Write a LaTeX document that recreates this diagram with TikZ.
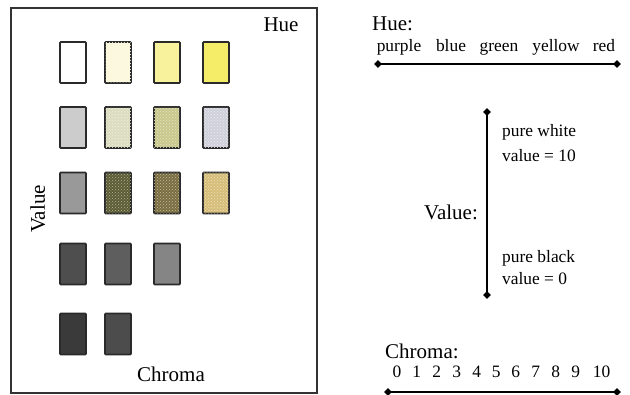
\documentclass[tikz,border=0pt]{standalone}
\usepackage{fontspec}
\setmainfont{Liberation Serif}
\usetikzlibrary{shapes.geometric,patterns}

\definecolor{framegray}{HTML}{333333}
\definecolor{edgegray}{HTML}{2A2A2A}
% swatch colours, named by row and column
\definecolor{c12}{HTML}{FBF8DC}
\definecolor{c13}{HTML}{F7F29B}
\definecolor{c14}{HTML}{F5ED68}
\definecolor{c21}{HTML}{CCCCCC}
\definecolor{c22}{HTML}{DCDCC0}
\definecolor{c23}{HTML}{C8C88C}
\definecolor{c24}{HTML}{D0D0DC}
\definecolor{c31}{HTML}{999999}
\definecolor{c32}{HTML}{5C5C34}
\definecolor{c33}{HTML}{7A6E40}
\definecolor{c34}{HTML}{D6BE78}
\definecolor{c41}{HTML}{4E4E4E}
\definecolor{c42}{HTML}{5E5E5E}
\definecolor{c43}{HTML}{858585}
\definecolor{c51}{HTML}{3A3A3A}
\definecolor{c52}{HTML}{4C4C4C}

\tikzset{
  swatch/.style={draw=edgegray, line width=1.6pt, minimum width=26pt, minimum height=41pt,
                 inner sep=0pt, rounded corners=0.8pt},
  dotted swatch/.style={swatch, fill=#1, postaction={pattern=crosshatch dots, pattern color=white!55!#1}},
  biglabel/.style={font=\fontsize{21}{25}\selectfont, inner sep=0pt},
  smalllabel/.style={font=\fontsize{17.4}{21}\selectfont, inner sep=0pt},
  axis/.style={line width=1.6pt, black},
  tipmark/.style={diamond, fill=black, inner sep=0pt, minimum width=8pt, minimum height=8pt},
}

\begin{document}
\begin{tikzpicture}[x=1pt, y=-1pt]
\useasboundingbox (0,0) rectangle (630,395);

% outer frame of the colour sheet
\draw[framegray, line width=1.4pt] (11,8) rectangle (317,393);

% swatches, row by row (value decreasing downwards)
\node[swatch, fill=white]  (s11) at (73,62.5)  {};
\node[dotted swatch=c12]   (s12) at (118,62.5) {};
\node[swatch, fill=c13]    (s13) at (167,62.5) {};
\node[swatch, fill=c14]    (s14) at (216,62.5) {};

\node[swatch, fill=c21]    (s21) at (73,127.5)  {};
\node[dotted swatch=c22]   (s22) at (118,127.5) {};
\node[dotted swatch=c23]   (s23) at (167,127.5) {};
\node[dotted swatch=c24]   (s24) at (216,127.5) {};

\node[swatch, fill=c31]    (s31) at (73,193)  {};
\node[dotted swatch=c32]   (s32) at (118,193) {};
\node[dotted swatch=c33]   (s33) at (167,193) {};
\node[dotted swatch=c34]   (s34) at (216,193) {};

\node[swatch, fill=c41]    (s41) at (73,264)  {};
\node[swatch, fill=c42]    (s42) at (118,264) {};
\node[swatch, fill=c43]    (s43) at (167,264) {};

\node[swatch, fill=c51]    (s51) at (73,334)  {};
\node[swatch, fill=c52]    (s52) at (118,334) {};

% sheet labels
\node[biglabel, anchor=base]             (hueS)    at (281,32)  {Hue};
\node[biglabel, anchor=base]             (chromaS) at (171,382) {Chroma};
\node[biglabel, anchor=base, rotate=90]  (valueS)  at (45,209)  {Value};

% hue axis
\node[biglabel, anchor=base west] (hueT) at (372,31) {Hue:};
\node[tipmark] (hueL) at (378,64) {};
\node[tipmark] (hueR) at (617,64) {};
\draw[axis] (hueL.center) -- (hueR.center);
\foreach \n/\x in {purple/399, blue/451, green/499, yellow/556, red/604}
  \node[smalllabel, anchor=base] (h-\n) at (\x,52) {\n};

% value axis
\node[biglabel, anchor=base west] (valueT) at (424,220) {Value:};
\node[tipmark] (valTop) at (487,112) {};
\node[tipmark] (valBot) at (487,295) {};
\draw[axis] (valTop.center) -- (valBot.center);
\node[smalllabel, anchor=base west] (pw)  at (502,137) {pure white};
\node[smalllabel, anchor=base west] (v10) at (502,162) {value = 10};
\node[smalllabel, anchor=base west] (pb)  at (502,263) {pure black};
\node[smalllabel, anchor=base west] (v0)  at (502,285) {value = 0};

% chroma axis
\node[biglabel, anchor=base west] (chromaT) at (385,359) {Chroma:};
\node[tipmark] (chL) at (388,392) {};
\node[tipmark] (chR) at (617,392) {};
\draw[axis] (chL.center) -- (chR.center);
\foreach \k/\x in {0/397, 1/416.7, 2/436.7, 3/456.7, 4/476.7, 5/496.3, 6/515.7, 7/535.7, 8/555.7, 9/575.7, 10/601.5}
  \node[smalllabel, anchor=base] (c\k) at (\x,378) {\k};
\end{tikzpicture}
\end{document}
